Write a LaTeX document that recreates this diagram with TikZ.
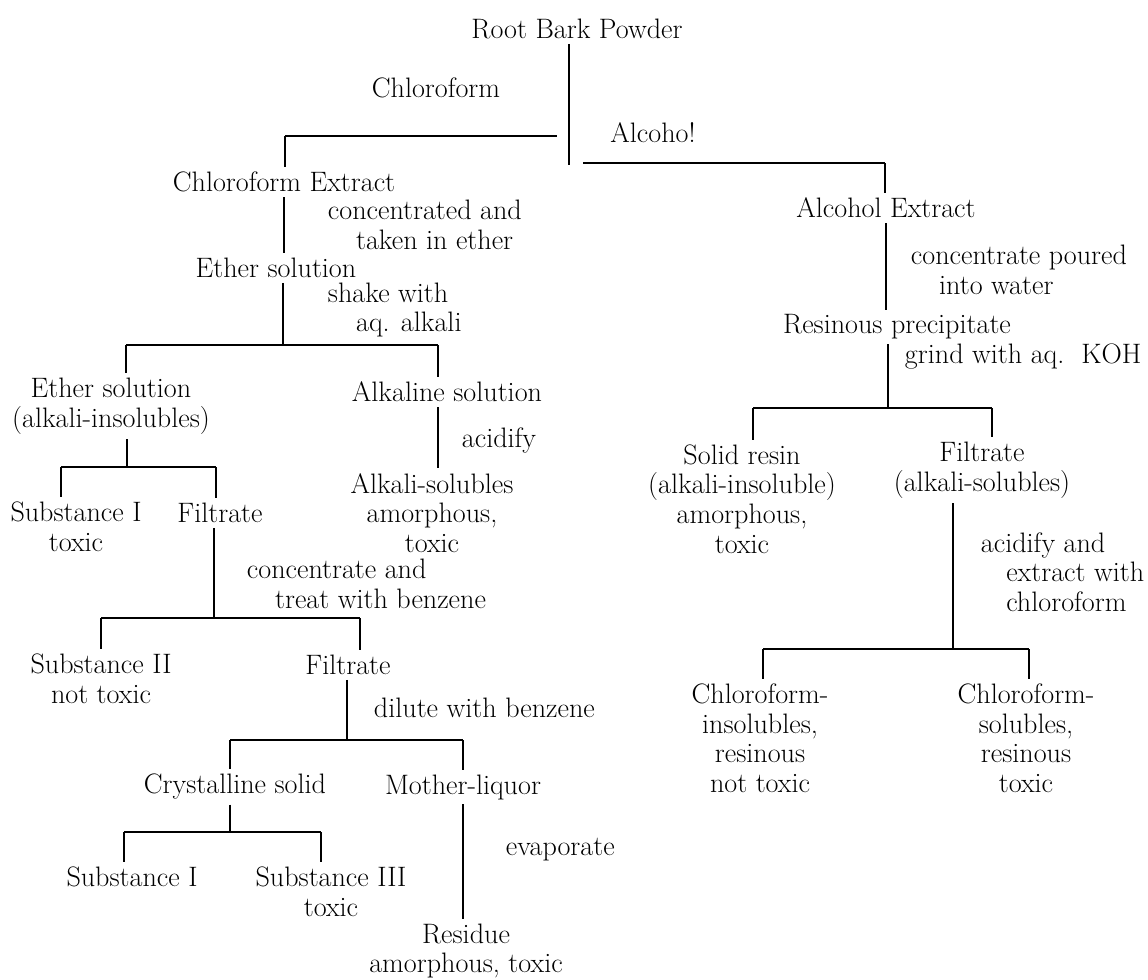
\documentclass[tikz,border=0pt]{standalone}
\usepackage{tikz}

\begin{document}
\begin{tikzpicture}[
    x=0.025cm, y=-0.025cm,
    font=\fontsize{20}{21}\selectfont,
    fraction/.style={align=center},
    treatment/.style={align=left, anchor=west},
    link/.style={line width=1.1pt}
]
    \useasboundingbox (0,0) rectangle (1148,979);

    % fractions and treatments
    \node[fraction] (root) at (577,29) {Root Bark Powder};
    \node[fraction] (chl) at (436,88) {Chloroform};
    \node[fraction] (alc) at (653,133) {Alcoho!};

    \node[fraction] (chlext) at (284,182) {Chloroform Extract};
    \node[treatment] (concA) at (323,225) {concentrated and\\\hspace*{1em}taken in ether};
    \node[fraction] (ether) at (276,268) {Ether solution};
    \node[treatment] (shake) at (323,310) {shake with\\\hspace*{1em}aq. alkali};
    \node[fraction] (ethsol) at (111,406) {Ether solution\\(alkali-insolubles)};
    \node[fraction] (alksol) at (447,392) {Alkaline solution};
    \node[treatment] (acid) at (457,440) {acidify};
    \node[fraction] (alksolub) at (432,513) {Alkali-solubles\\amorphous,\\toxic};
    \node[fraction] (subI) at (76,527) {Substance I\\toxic};
    \node[fraction] (filtA) at (220,513) {Filtrate};
    \node[treatment] (concB) at (242,584) {concentrate and\\\hspace*{1em}treat with benzene};
    \node[fraction] (subII) at (101,679) {Substance II\\not toxic};
    \node[fraction] (filtB) at (348,665) {Filtrate};
    \node[treatment] (dilute) at (369,708) {dilute with benzene};
    \node[fraction] (cryst) at (235,787) {Crystalline solid};
    \node[fraction] (mother) at (463,787) {Mother-liquor};
    \node[fraction] (subIb) at (132,877) {Substance I};
    \node[fraction] (subIII) at (331,892) {Substance III\\toxic};
    \node[treatment] (evap) at (501,850) {evaporate};
    \node[fraction] (resid) at (466,951) {Residue\\amorphous, toxic};

    \node[fraction] (alcext) at (886,208) {Alcohol Extract};
    \node[treatment] (pour) at (906,270) {concentrate poured\\\hspace*{1em}into water};
    \node[fraction] (resin) at (897,327) {Resinous precipitate};
    \node[treatment] (grind) at (900,357) {grind with aq.~~KOH};
    \node[fraction] (solid) at (742,499) {Solid resin\\(alkali-insoluble)\\amorphous,\\toxic};
    \node[fraction] (filtC) at (982,470) {Filtrate\\(alkali-solubles)};
    \node[treatment] (acidext) at (976,572) {acidify and\\\hspace*{0.9em}extract with\\\hspace*{0.9em}chloroform};
    \node[fraction] (chins) at (760,738) {Chloroform-\\insolubles,\\resinous\\not toxic};
    \node[fraction] (chsol) at (1026,738) {Chloroform-\\solubles,\\resinous\\toxic};

    % junctions on the bars
    \coordinate (rootJ) at (569,165);
    \coordinate (chlL) at (285,136);
    \coordinate (chlR) at (557,136);
    \coordinate (alcL) at (583,163);
    \coordinate (alcR) at (885,163);
    \coordinate (etherJ) at (283,345);
    \coordinate (ethsolD) at (126,345);
    \coordinate (alksolD) at (438,345);
    \coordinate (ethsolJ) at (127,467);
    \coordinate (subID) at (61,467);
    \coordinate (filtAD) at (216,467);
    \coordinate (filtAJ) at (214,618);
    \coordinate (subIID) at (101,618);
    \coordinate (filtBD) at (360,618);
    \coordinate (filtBJ) at (347,740);
    \coordinate (crystD) at (230,740);
    \coordinate (motherD) at (463,740);
    \coordinate (crystJ) at (230,832);
    \coordinate (subIbD) at (124,832);
    \coordinate (subIIID) at (321,832);
    \coordinate (resinJ) at (888,408);
    \coordinate (solidD) at (753,408);
    \coordinate (filtCD) at (992,408);
    \coordinate (filtCJ) at (953,649);
    \coordinate (chinsD) at (763,649);
    \coordinate (chsolD) at (1029,649);

    % root bark powder
    \draw[link] (root.south -| rootJ) -- (rootJ);
    \draw[link] (chlL) -- (chlR);
    \draw[link] (alcL) -- (alcR);
    \draw[link] (chlL) -- (chlL |- chlext.north);
    \draw[link] (alcR) -- (alcR |- alcext.north);

    % chloroform side
    \draw[link] (chlext.south) -- (chlext.south |- ether.north);
    \draw[link] (ether.south -| etherJ) -- (etherJ);
    \draw[link] (ethsolD) -- (alksolD);
    \draw[link] (ethsolD) -- (ethsolD |- ethsol.north);
    \draw[link] (alksolD) -- (alksolD |- alksol.north);
    \draw[link] (alksolD |- alksol.south) -- (alksolD |- alksolub.north);

    \draw[link] (ethsol.south -| ethsolJ) -- (ethsolJ);
    \draw[link] (subID) -- (filtAD);
    \draw[link] (subID) -- (subID |- subI.north);
    \draw[link] (filtAD) -- (filtAD |- filtA.north);

    \draw[link] (filtA.south -| filtAJ) -- (filtAJ);
    \draw[link] (subIID) -- (filtBD);
    \draw[link] (subIID) -- (subIID |- subII.north);
    \draw[link] (filtBD) -- (filtBD |- filtB.north);

    \draw[link] (filtB.south -| filtBJ) -- (filtBJ);
    \draw[link] (crystD) -- (motherD);
    \draw[link] (crystD) -- (crystD |- cryst.north);
    \draw[link] (motherD) -- (motherD |- mother.north);

    \draw[link] (cryst.south -| crystJ) -- (crystJ);
    \draw[link] (subIbD) -- (subIIID);
    \draw[link] (subIbD) -- (subIbD |- subIb.north);
    \draw[link] (subIIID) -- (subIIID |- subIII.north);

    \draw[link] (motherD |- mother.south) -- (motherD |- resid.north);

    % alcohol side
    \draw[link] (alcext.south) -- (alcext.south |- resin.north);
    \draw[link] (resin.south -| resinJ) -- (resinJ);
    \draw[link] (solidD) -- (filtCD);
    \draw[link] (solidD) -- (solidD |- solid.north);
    \draw[link] (filtCD) -- (filtCD |- filtC.north);

    \draw[link] (filtC.south -| filtCJ) -- (filtCJ);
    \draw[link] (chinsD) -- (chsolD);
    \draw[link] (chinsD) -- (chinsD |- chins.north);
    \draw[link] (chsolD) -- (chsolD |- chsol.north);

\end{tikzpicture}
\end{document}
